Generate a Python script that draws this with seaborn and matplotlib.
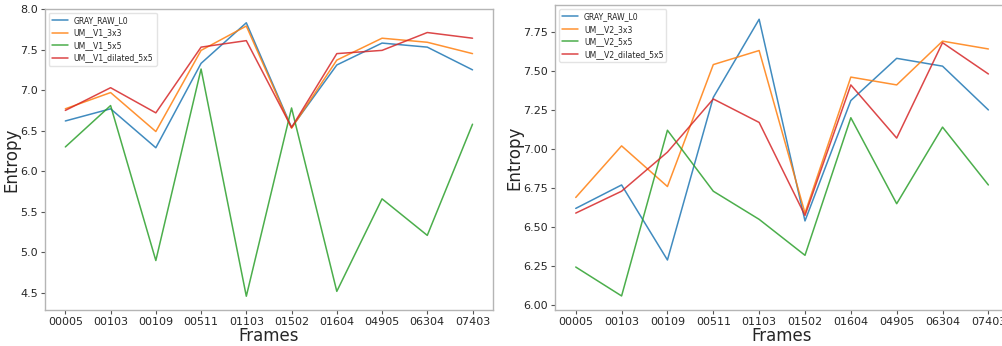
import matplotlib
matplotlib.use("Agg")
import matplotlib.pyplot as plt
import seaborn as sns
import pandas as pd

frames = ["00005", "00103", "00109", "00511", "01103", "01502", "01604", "04905", "06304", "07403"]

gray_raw = [6.62, 6.77, 6.29, 7.33, 7.83, 6.54, 7.31, 7.58, 7.53, 7.25]

v1_3x3 = [6.77, 6.97, 6.49, 7.49, 7.79, 6.53, 7.37, 7.64, 7.59, 7.45]
v1_5x5 = [6.30, 6.81, 4.90, 7.26, 4.46, 6.78, 4.52, 5.66, 5.21, 6.58]
v1_dil = [6.75, 7.03, 6.72, 7.53, 7.61, 6.54, 7.45, 7.49, 7.71, 7.64]

v2_3x3 = [6.69, 7.02, 6.76, 7.54, 7.63, 6.59, 7.46, 7.41, 7.69, 7.64]
v2_5x5 = [6.245, 6.06, 7.12, 6.73, 6.55, 6.32, 7.20, 6.65, 7.14, 6.77]
v2_dil = [6.59, 6.73, 6.98, 7.32, 7.17, 6.575, 7.41, 7.07, 7.68, 7.48]

left_series = {"GRAY_RAW_L0": gray_raw, "UM__V1_3x3": v1_3x3,
               "UM__V1_5x5": v1_5x5, "UM__V1_dilated_5x5": v1_dil}
right_series = {"GRAY_RAW_L0": gray_raw, "UM__V2_3x3": v2_3x3,
                "UM__V2_5x5": v2_5x5, "UM__V2_dilated_5x5": v2_dil}

sns.set_style("ticks")
plt.rcParams["font.family"] = ["DejaVu Sans"]

fig = plt.figure(figsize=(10.02, 3.46), dpi=100)
ax1 = fig.add_axes([0.0449, 0.104, 0.447, 0.870])
ax2 = fig.add_axes([0.554, 0.104, 0.453, 0.881])

palette = sns.color_palette("tab10", 4)


def draw(ax, series):
    rows = []
    for name, vals in series.items():
        for f, v in zip(frames, vals):
            rows.append({"Frames": f, "Entropy": v, "series": name})
    df = pd.DataFrame(rows)
    sns.lineplot(data=df, x="Frames", y="Entropy", hue="series", palette=palette,
                 sort=False, linewidth=1.1, alpha=0.85, ax=ax)
    ax.set_xlabel("Frames", fontsize=12, labelpad=0)
    ax.set_ylabel("Entropy", fontsize=12, labelpad=0)
    ax.tick_params(axis="both", labelsize=8, length=3, color="#555555", pad=2)
    for s in ax.spines.values():
        s.set_color("#b5b5b5")
        s.set_linewidth(1.0)
    leg = ax.legend(loc="upper left", fontsize=5.6, frameon=True, handlelength=2.0,
                    borderpad=0.4, labelspacing=0.45, handletextpad=0.8)
    leg.get_frame().set_edgecolor("#dddddd")
    leg.set_title(None)


draw(ax1, left_series)
ax1.set_ylim(4.29, 8.0)
ax1.set_yticks([4.5, 5.0, 5.5, 6.0, 6.5, 7.0, 7.5, 8.0])

draw(ax2, right_series)
ax2.set_ylim(5.97, 7.92)
ax2.set_yticks([6.0, 6.25, 6.5, 6.75, 7.0, 7.25, 7.5, 7.75])

fig.savefig("out.png", dpi=100)
